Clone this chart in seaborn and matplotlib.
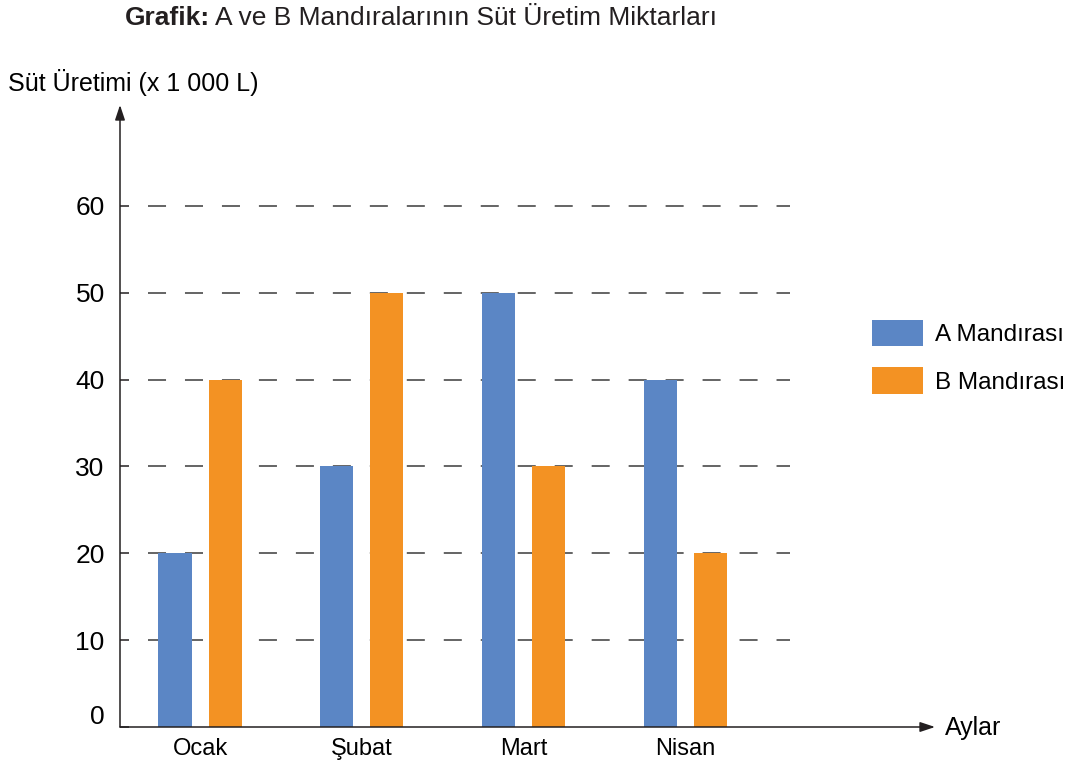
import numpy as np
import pandas as pd
import matplotlib
matplotlib.use('Agg')
import seaborn as sns
import matplotlib.pyplot as plt
import matplotlib.transforms as mtransforms
from matplotlib.patches import Patch

months = ['Ocak', 'Şubat', 'Mart', 'Nisan']
a_values = [20, 30, 50, 40]
b_values = [40, 50, 30, 20]
series = ['A Mandırası', 'B Mandırası']
y_ticks = [0, 10, 20, 30, 40, 50, 60]
colors = ['#5b86c5', '#f39223']

data = pd.DataFrame({
    'ay': months * 2,
    'uretim': a_values + b_values,
    'mandira': [series[0]] * 4 + [series[1]] * 4,
})

plt.rcParams['font.family'] = ['Liberation Sans', 'DejaVu Sans']
ink = '#231f20'

fig = plt.figure(figsize=(10.77, 7.69), dpi=100)
# axes box in pixels: left 120, right 935, bottom 727, top 105
ax = fig.add_axes([120 / 1077, 42 / 769, 815 / 1077, 622 / 769])

sns.barplot(data=data, x='ay', y='uretim', hue='mandira', palette=colors,
            saturation=1, width=0.62, gap=0.34, linewidth=0, legend=False,
            ax=ax, zorder=3)

ax.set_xlim(-0.495, 4.545)
ax.set_ylim(0, 71.6)

# dashed guide lines
ax.hlines(y_ticks[1:], -0.32, 3.65, colors='#3a3a3a', linewidth=1.1,
          linestyles=(0, (11.8, 12.4)), zorder=1)

for s in ax.spines.values():
    s.set_visible(False)

ax.set_yticks(y_ticks)
ax.set_yticklabels([str(v) for v in y_ticks], fontsize=19)
ax.tick_params(axis='y', direction='in', length=6.5, width=1.1, color=ink, pad=11)
ax.tick_params(axis='x', length=0, labelsize=17, pad=8)
ax.set_xlabel('')
ax.set_ylabel('')

# the 0 label sits a little above the axis in the original
zero = ax.get_yticklabels()[0]
zero.set_transform(zero.get_transform() +
                   mtransforms.ScaledTranslation(0, 12 / 100, fig.dpi_scale_trans))

# axis arrows
ax.annotate('', xy=(1, 0), xytext=(0, 0), xycoords='axes fraction',
            arrowprops=dict(arrowstyle='-|>,head_length=0.9,head_width=0.3',
                            color=ink, lw=1.1, shrinkA=0, shrinkB=0))
ax.annotate('', xy=(0, 1), xytext=(0, 0), xycoords='axes fraction',
            arrowprops=dict(arrowstyle='-|>,head_length=0.9,head_width=0.3',
                            color=ink, lw=1.1, shrinkA=0, shrinkB=0))

fig.text(945 / 1077, 1 - 728 / 769, 'Aylar', fontsize=18, ha='left', va='center')
fig.text(8 / 1077, 1 - 82 / 769, 'Süt Üretimi (x 1 000 L)', fontsize=18,
         ha='left', va='center')

# title: bold part then normal part
t1 = fig.text(125 / 1077, 1 - 18 / 769, 'Grafik:', fontsize=19, fontweight='bold',
              ha='left', va='center', color=ink)
fig.canvas.draw()
bb = t1.get_window_extent()
fig.text((bb.x1 + 5) / 1077, 1 - 18 / 769, 'A ve B Mandıralarının Süt Üretim Miktarları',
         fontsize=19, ha='left', va='center', color=ink)

handles = [Patch(facecolor=c, edgecolor='none') for c in colors]
fig.legend(handles, series, loc='upper left', bbox_to_anchor=(872 / 1077, 1 - 320 / 769),
           frameon=False, fontsize=17.5, handlelength=2.1, handleheight=1.3,
           handletextpad=0.5, labelspacing=0.85, borderpad=0, borderaxespad=0)

fig.savefig('out.png', dpi=100)
